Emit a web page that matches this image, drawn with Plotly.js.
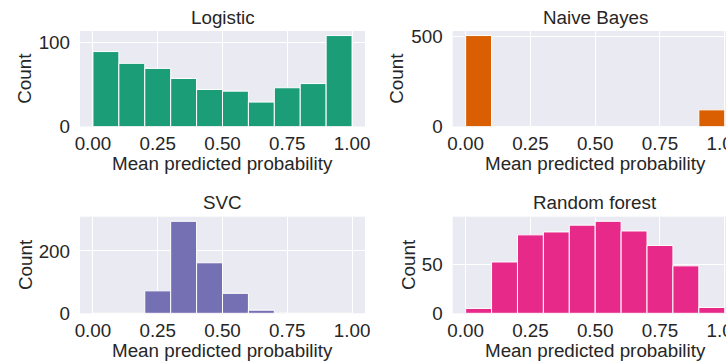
<!DOCTYPE html>
<html>
<head>
<meta charset="utf-8">
<script src="https://cdn.plot.ly/plotly-3.0.1.min.js"></script>
<style>
html,body{margin:0;padding:0;overflow:hidden;background:#fff;}
#chart{width:750px;height:364px;}
</style>
</head>
<body>
<div id="chart"></div>
<script>
// Bin centers (10 bins of width 0.1 over [0,1])
var binCenters = [0.05, 0.15, 0.25, 0.35, 0.45, 0.55, 0.65, 0.75, 0.85, 0.95];
var binWidth = 0.1;

var logisticCounts = [89, 75, 69, 57, 44, 42, 29, 46, 51, 108];
var naiveBayesCounts = [503, 0, 0, 0, 0, 0, 0, 0, 0, 92];
var svcCounts = [0, 0, 72, 295, 162, 64, 10, 0, 0, 0];
var randomForestCounts = [5, 53, 81, 84, 91, 95, 85, 70, 49, 6];

var panelTitles = ["Logistic", "Naive Bayes", "SVC", "Random forest"];
var panelColors = ["#1b9e77", "#d95f02", "#7570b3", "#e7298a"];
var panelDticks = [100, 500, 200, 50];

var tickVals = [0, 0.25, 0.5, 0.75, 1.0];
var tickText = ["0.00", "0.25", "0.50", "0.75", "1.00"];
var xLabel = "Mean predicted probability";
var yLabel = "Count";

var allCounts = [logisticCounts, naiveBayesCounts, svcCounts, randomForestCounts];

var W = 750, H = 364;
var txt = "#262626";
var fontFam = "Liberation Sans, Arial, sans-serif";
var fs = 18.8;

// pixel boxes for each panel [left, right, top, bottom]
var boxes = [
  [80, 365, 31, 126.5],
  [452.7, 737.7, 31, 126.5],
  [80, 365, 216.7, 313.3],
  [452.7, 737.7, 216.7, 313.3]
];

var data = [];
var layout = {
  width: W, height: H,
  margin: {l: 0, r: 0, t: 0, b: 0},
  paper_bgcolor: "#ffffff",
  plot_bgcolor: "#eaeaf2",
  showlegend: false,
  bargap: 0,
  font: {family: fontFam, size: fs, color: txt},
  annotations: []
};

var yTitleX = [25, 397, 25, 408];

for (var i = 0; i < 4; i++) {
  var sfx = i === 0 ? "" : String(i + 1);
  var b = boxes[i];
  data.push({
    type: "bar",
    x: binCenters,
    y: allCounts[i],
    width: binWidth,
    marker: {color: panelColors[i], line: {color: "#ffffff", width: 1}},
    xaxis: "x" + sfx,
    yaxis: "y" + sfx,
    hoverinfo: "skip"
  });
  var maxC = Math.max.apply(null, allCounts[i]);
  layout["xaxis" + sfx] = {
    domain: [b[0] / W, b[1] / W],
    anchor: "y" + sfx,
    range: [-0.05, 1.05],
    tickvals: tickVals,
    ticktext: tickText,
    showgrid: true, gridcolor: "#ffffff", gridwidth: 1,
    zeroline: false, showline: false, ticks: "",
    ticklabelstandoff: 4,
    tickfont: {family: fontFam, size: fs, color: txt},
    fixedrange: true
  };
  layout["yaxis" + sfx] = {
    domain: [1 - b[3] / H, 1 - b[2] / H],
    anchor: "x" + sfx,
    range: [0, maxC * 1.05],
    dtick: panelDticks[i],
    tick0: 0,
    showgrid: true, gridcolor: "#ffffff", gridwidth: 1,
    zeroline: false, showline: false, ticks: "",
    ticklabelstandoff: 9,
    tickfont: {family: fontFam, size: fs, color: txt},
    fixedrange: true
  };
  var cx = (b[0] + b[1]) / 2 / W;
  // panel title
  layout.annotations.push({
    text: panelTitles[i], xref: "paper", yref: "paper",
    x: cx, y: 1 - (b[2] - 14) / H, xanchor: "center", yanchor: "middle",
    showarrow: false, font: {family: fontFam, size: fs, color: txt}
  });
  // x axis title
  layout.annotations.push({
    text: xLabel, xref: "paper", yref: "paper",
    x: cx, y: 1 - (b[3] + 37) / H, xanchor: "center", yanchor: "middle",
    showarrow: false, font: {family: fontFam, size: fs, color: txt}
  });
  // y axis title
  layout.annotations.push({
    text: yLabel, xref: "paper", yref: "paper",
    x: yTitleX[i] / W, y: 1 - ((b[2] + b[3]) / 2) / H, xanchor: "center", yanchor: "middle",
    textangle: -90,
    showarrow: false, font: {family: fontFam, size: fs, color: txt}
  });
}

Plotly.newPlot("chart", data, layout, {displayModeBar: false, staticPlot: true});
</script>
</body>
</html>
